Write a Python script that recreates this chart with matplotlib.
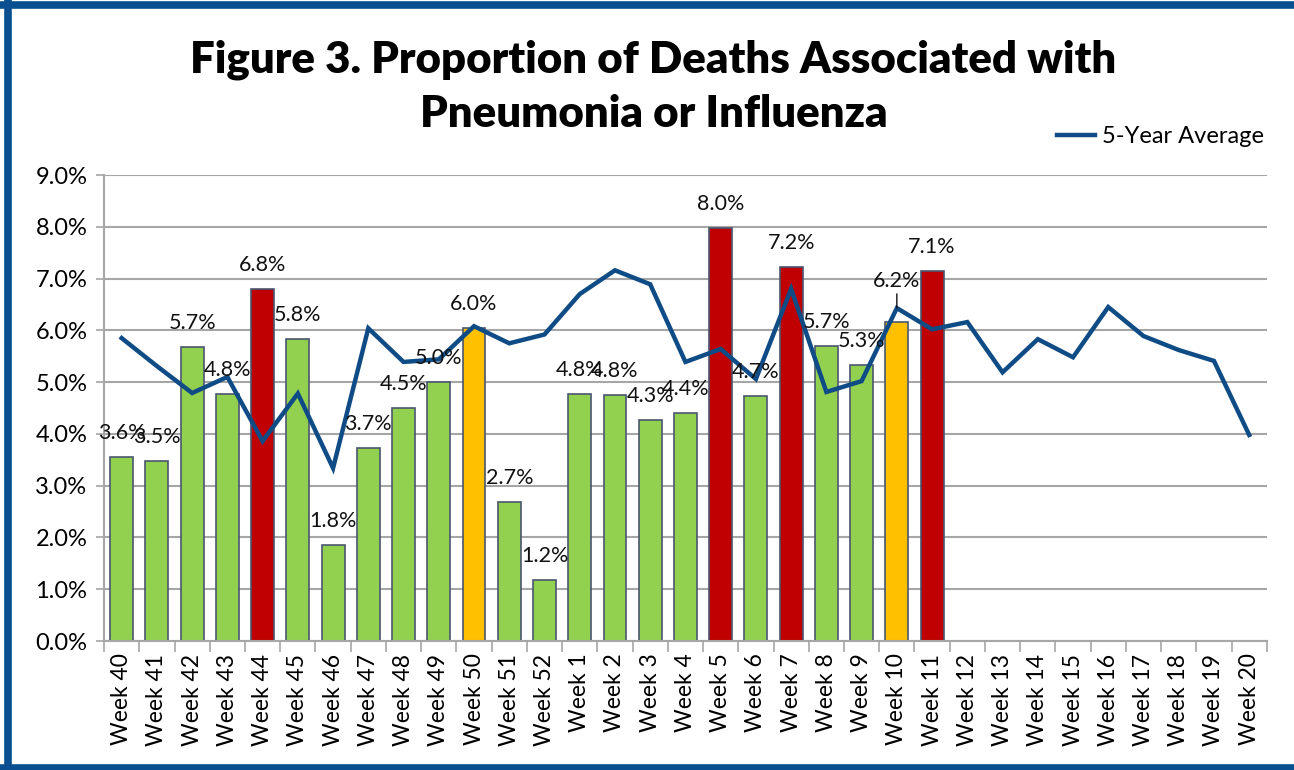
import matplotlib
matplotlib.use("Agg")
import matplotlib.pyplot as plt
from matplotlib.lines import Line2D
from matplotlib.patches import Rectangle
import numpy as np

plt.rcParams['font.family'] = ['Lato', 'DejaVu Sans']

weeks = ["Week 40", "Week 41", "Week 42", "Week 43", "Week 44", "Week 45", "Week 46",
         "Week 47", "Week 48", "Week 49", "Week 50", "Week 51", "Week 52", "Week 1",
         "Week 2", "Week 3", "Week 4", "Week 5", "Week 6", "Week 7", "Week 8", "Week 9",
         "Week 10", "Week 11", "Week 12", "Week 13", "Week 14", "Week 15", "Week 16",
         "Week 17", "Week 18", "Week 19", "Week 20"]

proportion = [3.56, 3.47, 5.68, 4.77, 6.79, 5.84, 1.85, 3.73, 4.50, 5.00, 6.05, 2.69,
              1.17, 4.77, 4.76, 4.26, 4.40, 7.97, 4.74, 7.23, 5.70, 5.33, 6.17, 7.14]
bar_labels = ["3.6%", "3.5%", "5.7%", "4.8%", "6.8%", "5.8%", "1.8%", "3.7%", "4.5%",
              "5.0%", "6.0%", "2.7%", "1.2%", "4.8%", "4.8%", "4.3%", "4.4%", "8.0%",
              "4.7%", "7.2%", "5.7%", "5.3%", "6.2%", "7.1%"]
bar_level = ["g", "g", "g", "g", "r", "g", "g", "g", "g", "g", "y", "g", "g", "g",
             "g", "g", "g", "r", "g", "r", "g", "g", "y", "r"]

five_year_avg = [5.85, 5.31, 4.79, 5.10, 3.86, 4.78, 3.34, 6.04, 5.39, 5.44, 6.08, 5.75,
                 5.92, 6.70, 7.16, 6.89, 5.39, 5.64, 5.06, 6.80, 4.81, 5.02, 6.43, 6.02,
                 6.16, 5.19, 5.83, 5.48, 6.45, 5.89, 5.62, 5.41, 3.98]

level_colors = {"g": "#92D050", "r": "#C00000", "y": "#FFC000"}
line_color = "#0F4C86"

fig = plt.figure(figsize=(12.94, 7.70), dpi=100)
ax = fig.add_axes([0.0804, 0.1675, 0.8986, 0.6052])

x_all = np.arange(len(weeks))
x_bars = np.arange(len(proportion))
ax.bar(x_bars, proportion, width=0.65, color=[level_colors[c] for c in bar_level],
       edgecolor="#4A5670", linewidth=1.2, zorder=2)
ax.plot(x_all, five_year_avg, color=line_color, linewidth=3.2, zorder=3,
        label="5-Year Average", solid_joinstyle="miter")

for i, (v, lab) in enumerate(zip(proportion, bar_labels)):
    if lab == "6.2%":
        ax.annotate(lab, xy=(i, five_year_avg[i]), xytext=(0, 27),
                    textcoords="offset pixels", ha="center", va="center",
                    fontsize=15.5, color="#111111", zorder=5,
                    arrowprops=dict(arrowstyle="-", color="#111111", lw=1.0,
                                    shrinkA=0, shrinkB=0,
                                    relpos=(0.5, 0.0)))
        continue
    ax.annotate(lab, xy=(i, v), xytext=(0, 24), textcoords="offset pixels",
                ha="center", va="center", fontsize=15.5, color="#111111", zorder=5)

ax.set_xlim(-0.5, len(weeks) - 0.5)
ax.set_ylim(0, 9)
yt = np.arange(0, 9.01, 1.0)
ax.set_yticks(yt)
ax.set_yticklabels([f"{v:.1f}%" for v in yt], fontsize=17)
ax.yaxis.grid(True, color="#A6A6A6", linewidth=1.5, zorder=0)
ax.set_axisbelow(True)

ax.set_xticks(x_all)
ax.set_xticklabels(weeks, rotation=90, fontsize=16.5)
ax.tick_params(axis="x", length=0, pad=9)
ax.set_xticks(np.arange(-0.5, len(weeks), 1.0), minor=True)
ax.tick_params(axis="x", which="minor", length=8, color="#A6A6A6", width=1.2)
ax.tick_params(axis="y", length=6, color="#A6A6A6", width=1.2, pad=6)

for s in ["top", "right"]:
    ax.spines[s].set_visible(False)
for s in ["left", "bottom"]:
    ax.spines[s].set_color("#A6A6A6")
    ax.spines[s].set_linewidth(1.5)

fig.text(0.505, 0.922, "Figure 3. Proportion of Deaths Associated with",
         ha="center", va="center", fontsize=31.5, fontweight="heavy")
fig.text(0.505, 0.852, "Pneumonia or Influenza",
         ha="center", va="center", fontsize=31.5, fontweight="heavy")

leg = ax.legend(loc="lower right", bbox_to_anchor=(1.006, 1.04), frameon=False,
                fontsize=17, handlelength=1.6, handletextpad=0.3, borderaxespad=0)

# outer border (left, top, bottom); the right edge is open
bc = "#0A5090"
fig.add_artist(Line2D([0.0058, 0.0058], [0.0, 1.0], transform=fig.transFigure,
                      color=bc, linewidth=5.5))
fig.add_artist(Line2D([0.0, 1.02], [0.9935, 0.9935], transform=fig.transFigure,
                      color=bc, linewidth=5.5))
fig.add_artist(Line2D([0.0, 1.02], [0.002, 0.002], transform=fig.transFigure,
                      color=bc, linewidth=5.5))
fig.add_artist(Rectangle((0.9965, 0.012), 0.01, 0.975, transform=fig.transFigure,
                         facecolor="white", edgecolor="none", zorder=10))

fig.savefig("out.png", dpi=100)
